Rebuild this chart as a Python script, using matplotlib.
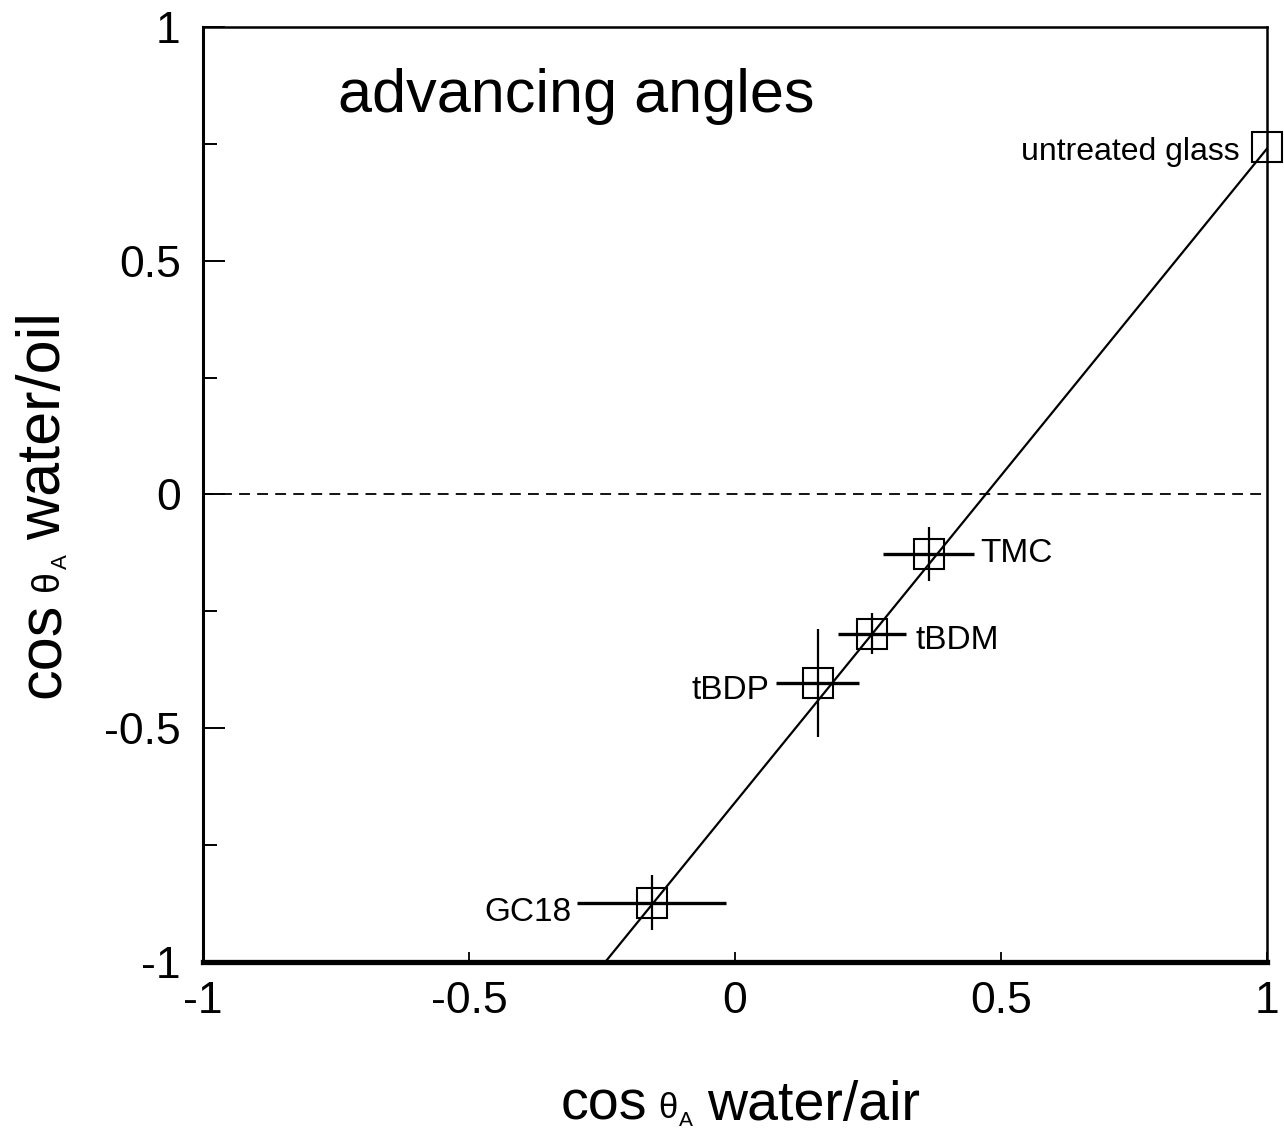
import matplotlib
matplotlib.use("Agg")
import matplotlib.pyplot as plt
from matplotlib.ticker import MultipleLocator, FixedLocator
from matplotlib.transforms import IdentityTransform

# ---- data: cos(theta_A) water/air vs cos(theta_A) water/oil ----
samples = ["GC18", "tBDP", "tBDM", "TMC", "untreated glass"]
cos_air = [-0.156, 0.156, 0.257, 0.364, 1.0]
cos_oil = [-0.873, -0.403, -0.298, -0.128, 0.743]
err_air = [0.140, 0.078, 0.064, 0.085, 0.0]
err_oil = [0.058, 0.115, 0.044, 0.058, 0.0]

# linear fit drawn through the points
fit_slope = 1.399
fit_intercept = -0.659

# label anchors (x, y) and alignment for each sample
label_x = [-0.308, 0.064, 0.340, 0.461, 0.949]
label_y = [-0.895, -0.420, -0.313, -0.126, 0.732]
label_ha = ["right", "right", "left", "left", "right"]

x_ticks = [-1, -0.5, 0, 0.5, 1]
x_ticklabels = ["-1", "-0.5", "0", "0.5", "1"]
y_ticks = [-1, -0.5, 0, 0.5, 1]
y_ticklabels = ["-1", "-0.5", "0", "0.5", "1"]

plt.rcParams["font.family"] = ["Liberation Sans", "DejaVu Sans"]
plt.rcParams["axes.unicode_minus"] = False

W, H, DPI = 12.84, 11.34, 100
fig = plt.figure(figsize=(W, H), dpi=DPI)
ax = fig.add_axes([0.158, 0.1517, 0.8288, 0.8245])

ax.set_xlim(-1, 1)
ax.set_ylim(-1, 1)

# zero reference line
ax.axhline(0, color="black", lw=1.3, ls=(0, (6, 4)), zorder=1)

# fit line
xs = [-1.0, 1.0]
ax.plot(xs, [fit_slope * v + fit_intercept for v in xs], color="black", lw=1.6, zorder=2)

# horizontal error bars (thicker) and vertical error bars (thinner)
for x, y, ex, ey in zip(cos_air, cos_oil, err_air, err_oil):
    if ex > 0:
        ax.plot([x - ex, x + ex], [y, y], color="black", lw=2.4, zorder=3,
                solid_capstyle="butt")
    if ey > 0:
        ax.plot([x, x], [y - ey, y + ey], color="black", lw=1.6, zorder=3,
                solid_capstyle="butt")

ax.plot(cos_air, cos_oil, ls="none", marker="s", ms=21, mfc="none",
        mec="black", mew=1.5, zorder=4, clip_on=False)

# sample labels
for name, lx, ly, ha in zip(samples, label_x, label_y, label_ha):
    ax.text(lx, ly, name, ha=ha, va="center",
            fontsize=23 if name == "untreated glass" else 24)

ax.text(-0.746, 0.818, "advancing angles", fontsize=44, ha="left", va="baseline")

# axes frame
for side, lw in (("left", 2.2), ("bottom", 3.8), ("top", 1.8), ("right", 1.8)):
    ax.spines[side].set_linewidth(lw)

ax.xaxis.set_major_locator(FixedLocator(x_ticks))
ax.set_xticklabels(x_ticklabels, fontsize=32)
ax.yaxis.set_major_locator(FixedLocator(y_ticks))
ax.yaxis.set_minor_locator(MultipleLocator(0.25))
ax.set_yticklabels(y_ticklabels, fontsize=32)

ax.tick_params(axis="x", which="major", direction="in", length=7, width=1.3,
               pad=14, top=False)
ax.tick_params(axis="y", which="major", direction="in", length=16, width=1.4,
               pad=16, right=False)
ax.tick_params(axis="y", which="minor", direction="in", length=10, width=1.4,
               right=False)


def rich_label(parts, center, baseline, rotation=0):
    """Lay out (text, size, gap_px, rise_px) pieces along one baseline,
    centred on `center` (display pixels)."""
    renderer = fig.canvas.get_renderer()
    items = []
    for text, size, gap, rise in parts:
        t = fig.text(0, 0, text, fontsize=size, rotation=rotation,
                     rotation_mode="anchor", ha="left", va="baseline",
                     transform=IdentityTransform())
        bb = t.get_window_extent(renderer)
        length = bb.width if rotation == 0 else bb.height
        items.append((t, gap, rise, length))
    total = sum(g + L for _, g, _, L in items)
    pos = center - total / 2
    for t, gap, rise, length in items:
        pos += gap
        if rotation == 0:
            t.set_position((pos, baseline + rise))
        else:
            t.set_position((baseline - rise, pos))
        pos += length


fig_h_px = H * DPI
rich_label([("cos", 40, 0, 0), ("θ", 25, 12, 2), ("A", 15, 1, -6),
            ("water/air", 40, 14, 0)],
           center=740, baseline=fig_h_px - 1120)
rich_label([("cos", 44, 0, 0), ("θ", 27, 12, 2), ("A", 16, 1, -7),
            ("water/oil", 44, 14, 0)],
           center=fig_h_px - 505, baseline=60, rotation=90)

fig.savefig("out.png", dpi=DPI)
